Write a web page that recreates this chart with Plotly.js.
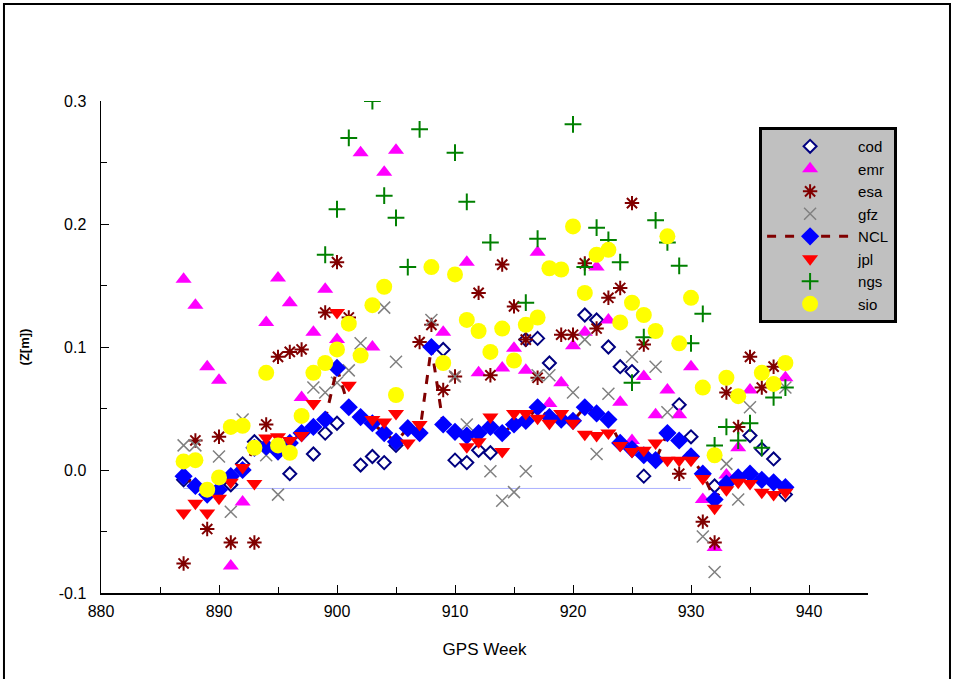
<!DOCTYPE html>
<html>
<head>
<meta charset="utf-8">
<script src="https://cdn.plot.ly/plotly-3.0.1.min.js"></script>
<style>html,body{margin:0;padding:0;background:#fff;}#chart{width:955px;height:679px;}</style>
</head>
<body>
<div id="chart"></div>
<script>
// ---- data (GPS week, Z offset in metres) ----
const codWeek = [887, 889, 891, 892, 893, 896, 898, 899, 900, 902, 903, 904, 905, 909, 910, 911, 912, 913, 916, 917, 918, 921, 922, 923, 924, 925, 926, 929, 930, 932, 935, 936, 937, 938];
const codZ    = [-0.008, -0.02, -0.012, 0.005, 0.023, -0.003, 0.013, 0.03, 0.038, 0.004, 0.011, 0.006, 0.02, 0.098, 0.008, 0.006, 0.016, 0.014, 0.106, 0.107, 0.087, 0.126, 0.122, 0.1, 0.084, 0.08, -0.005, 0.053, 0.027, -0.013, 0.028, 0.017, 0.009, -0.02];

const emrWeek = [887, 888, 889, 890, 891, 892, 894, 895, 896, 897, 898, 899, 900, 902, 903, 904, 905, 909, 911, 912, 914, 915, 916, 917, 918, 919, 920, 921, 922, 923, 924, 925, 926, 927, 928, 929, 930, 931, 932, 933, 934, 935, 938];
const emrZ    = [0.155, 0.134, 0.084, 0.073, -0.078, -0.026, 0.12, 0.156, 0.136, 0.059, 0.112, 0.147, 0.106, 0.258, 0.1, 0.242, 0.26, 0.112, 0.169, 0.079, 0.083, 0.099, 0.081, 0.177, 0.054, 0.071, 0.101, 0.112, 0.165, 0.122, 0.055, 0.024, 0.076, 0.045, 0.065, 0.045, 0.084, -0.024, -0.063, -0.004, 0.018, 0.065, 0.075];

const esaWeek = [887, 888, 889, 890, 891, 893, 894, 895, 896, 897, 899, 900, 901, 907, 908, 909, 910, 912, 913, 914, 915, 916, 917, 919, 920, 921, 922, 923, 924, 925, 926, 929, 931, 932, 933, 934, 935, 936, 937];
const esaZ    = [-0.076, 0.024, -0.048, 0.027, -0.059, -0.059, 0.037, 0.092, 0.096, 0.098, 0.128, 0.169, 0.124, 0.104, 0.118, 0.065, 0.076, 0.144, 0.077, 0.167, 0.133, 0.106, 0.075, 0.11, 0.11, 0.168, 0.115, 0.14, 0.148, 0.217, 0.102, -0.003, -0.042, -0.059, 0.063, 0.035, 0.092, 0.067, 0.084];

const gfzWeek = [887, 888, 890, 891, 892, 894, 895, 898, 899, 900, 901, 902, 904, 905, 908, 910, 911, 913, 914, 915, 916, 917, 918, 920, 921, 922, 923, 925, 927, 928, 931, 932, 933, 934, 935, 938];
const gfzZ    = [0.02, 0.02, 0.011, -0.034, 0.041, 0.012, -0.02, 0.067, 0.063, 0.071, 0.081, 0.103, 0.132, 0.088, 0.122, 0.076, 0.037, -0.001, -0.025, -0.018, -0.001, 0.077, 0.077, 0.063, 0.106, 0.013, 0.062, 0.092, 0.084, 0.047, -0.054, -0.083, 0.005, -0.024, 0.051, 0.067];

const nclWeek = [887, 888, 889, 890, 891, 892, 893, 894, 895, 896, 897, 898, 899, 900, 901, 902, 903, 904, 905, 906, 907, 908, 909, 910, 911, 912, 913, 914, 915, 916, 917, 918, 919, 920, 921, 922, 923, 924, 925, 926, 927, 928, 929, 930, 931, 932, 933, 934, 935, 936, 937, 938];
const nclZ    = [-0.005, -0.013, -0.02, -0.016, -0.005, 0.0, 0.018, 0.019, 0.015, 0.022, 0.03, 0.035, 0.041, 0.083, 0.051, 0.043, 0.038, 0.03, 0.023, 0.034, 0.03, 0.1, 0.037, 0.031, 0.028, 0.03, 0.035, 0.03, 0.037, 0.04, 0.051, 0.043, 0.041, 0.04, 0.051, 0.046, 0.041, 0.022, 0.017, 0.012, 0.008, 0.03, 0.024, 0.011, -0.003, -0.024, -0.011, -0.006, -0.003, -0.008, -0.01, -0.014];

const jplWeek = [887, 888, 889, 890, 891, 892, 893, 894, 895, 896, 897, 898, 900, 901, 903, 904, 905, 906, 907, 911, 912, 913, 914, 915, 916, 917, 918, 919, 920, 921, 922, 923, 924, 925, 926, 927, 928, 929, 930, 931, 932, 933, 934, 935, 936, 937, 938];
const jplZ    = [-0.035, -0.027, -0.035, -0.023, -0.01, 0.002, -0.011, 0.026, 0.027, 0.024, 0.028, 0.054, 0.128, 0.069, 0.041, 0.039, 0.046, 0.022, 0.037, 0.019, 0.023, 0.043, 0.015, 0.046, 0.046, 0.042, 0.038, 0.046, 0.038, 0.029, 0.028, 0.03, 0.02, 0.015, 0.016, 0.022, 0.008, 0.008, 0.008, -0.007, -0.031, -0.016, -0.01, -0.011, -0.018, -0.02, -0.018];

const ngsWeek = [899, 900, 901, 903, 904, 905, 906, 907, 910, 911, 913, 916, 917, 920, 921, 922, 923, 924, 925, 926, 927, 928, 929, 930, 931, 932, 933, 934, 935, 936, 937, 938];
const ngsZ    = [0.175, 0.212, 0.27, 0.3, 0.223, 0.205, 0.165, 0.277, 0.258, 0.218, 0.185, 0.136, 0.188, 0.281, 0.165, 0.197, 0.187, 0.169, 0.071, 0.108, 0.203, 0.185, 0.166, 0.103, 0.127, 0.02, 0.035, 0.024, 0.038, 0.018, 0.059, 0.067];

const sioWeek = [887, 888, 889, 890, 891, 892, 893, 894, 895, 896, 897, 898, 899, 900, 901, 902, 903, 904, 905, 908, 909, 910, 911, 912, 913, 914, 915, 916, 917, 918, 919, 920, 921, 922, 923, 924, 925, 926, 927, 928, 929, 930, 931, 932, 933, 934, 936, 937, 938];
const sioZ    = [0.007, 0.008, -0.016, -0.006, 0.035, 0.036, 0.018, 0.079, 0.02, 0.014, 0.044, 0.079, 0.087, 0.098, 0.119, 0.093, 0.134, 0.149, 0.061, 0.165, 0.087, 0.159, 0.122, 0.113, 0.096, 0.115, 0.089, 0.118, 0.124, 0.164, 0.163, 0.198, 0.144, 0.175, 0.179, 0.12, 0.136, 0.126, 0.113, 0.19, 0.103, 0.14, 0.067, 0.012, 0.075, 0.06, 0.079, 0.07, 0.087];

const refWeek = [887, 930];
const refZ    = [-0.015, -0.015];

const xTickVals = [880, 890, 900, 910, 920, 930, 940];
const yTickVals = [-0.1, 0.0, 0.1, 0.2, 0.3];
const yTickText = ['-0.1', '0.0', '0.1', '0.2', '0.3'];

// ---- traces ----
const traces = [
  {x: refWeek, y: refZ, mode: 'lines', line: {color: '#aab0ff', width: 1}, showlegend: false, hoverinfo: 'skip'},
  {name: 'cod', x: codWeek, y: codZ, mode: 'markers',
   marker: {symbol: 'diamond', size: 10, color: '#ffffff', line: {color: '#000080', width: 2}}},
  {name: 'emr', x: emrWeek, y: emrZ, mode: 'markers',
   marker: {symbol: 'triangle-up', size: 14, color: '#ff00ff', line: {width: 0}}},
  {name: 'esa', x: esaWeek, y: esaZ, mode: 'markers',
   marker: {symbol: 'asterisk-open', size: 12, color: '#800000', line: {color: '#800000', width: 2}}},
  {name: 'gfz', x: gfzWeek, y: gfzZ, mode: 'markers',
   marker: {symbol: 'x-thin-open', size: 12, color: '#808080', line: {color: '#808080', width: 1.5}}},
  {name: 'NCL', x: nclWeek, y: nclZ, mode: 'lines+markers',
   line: {color: '#800000', width: 3, dash: 'dash'},
   marker: {symbol: 'diamond', size: 14, color: '#0000ff', line: {width: 0}}},
  {name: 'jpl', x: jplWeek, y: jplZ, mode: 'markers',
   marker: {symbol: 'triangle-down', size: 14, color: '#ff0000', line: {width: 0}}},
  {name: 'ngs', x: ngsWeek, y: ngsZ, mode: 'markers',
   marker: {symbol: 'cross-thin-open', size: 12, color: '#008000', line: {color: '#008000', width: 2}}},
  {name: 'sio', x: sioWeek, y: sioZ, mode: 'markers',
   marker: {symbol: 'circle', size: 16, color: '#ffff00', line: {width: 0}}}
];

const font = '"Liberation Sans", Arial, sans-serif';

const layout = {
  width: 955, height: 679,
  margin: {l: 101, r: 87, t: 101, b: 86},
  paper_bgcolor: '#ffffff', plot_bgcolor: '#ffffff',
  font: {family: font, size: 16, color: '#000'},
  showlegend: true,
  legend: {
    x: 0.858, y: 0.947, xanchor: 'left', yanchor: 'top',
    bgcolor: '#c0c0c0', bordercolor: '#000', borderwidth: 3,
    font: {family: font, size: 15, color: '#000'},
    itemwidth: 86, tracegroupgap: 0
  },
  xaxis: {
    range: [880, 945], tickvals: xTickVals, ticktext: xTickVals.map(String),
    showgrid: false, zeroline: false, showline: true, linecolor: '#000', linewidth: 1.5,
    ticks: 'inside', ticklen: 8, tickwidth: 1, tickcolor: '#000',
    minor: {dtick: 5, tick0: 880, ticks: 'inside', ticklen: 6, tickcolor: '#000', tickwidth: 1},
    tickfont: {family: font, size: 16}, ticklabelstandoff: 3,
    title: {text: 'GPS Week', font: {family: font, size: 17}, standoff: 24}
  },
  yaxis: {
    range: [-0.1, 0.3], tickvals: yTickVals, ticktext: yTickText,
    showgrid: false, zeroline: false, showline: true, linecolor: '#000', linewidth: 1.5,
    ticks: 'inside', ticklen: 8, tickwidth: 1, tickcolor: '#000',
    minor: {dtick: 0.05, tick0: 0, ticks: 'inside', ticklen: 6, tickcolor: '#000', tickwidth: 1},
    tickfont: {family: font, size: 16}, ticklabelstandoff: 10,
    title: {text: '<b>(Z[m])</b>', font: {family: font, size: 13}, standoff: 26}
  },
  shapes: [
    {type: 'rect', xref: 'paper', yref: 'paper', x0: -0.1265, x1: 1.1069, y0: -0.185, y1: 1.197,
     line: {color: '#000', width: 2}, fillcolor: 'rgba(0,0,0,0)', layer: 'above'}
  ]
};

Plotly.newPlot('chart', traces, layout, {displayModeBar: false, staticPlot: true});
</script>
</body>
</html>
